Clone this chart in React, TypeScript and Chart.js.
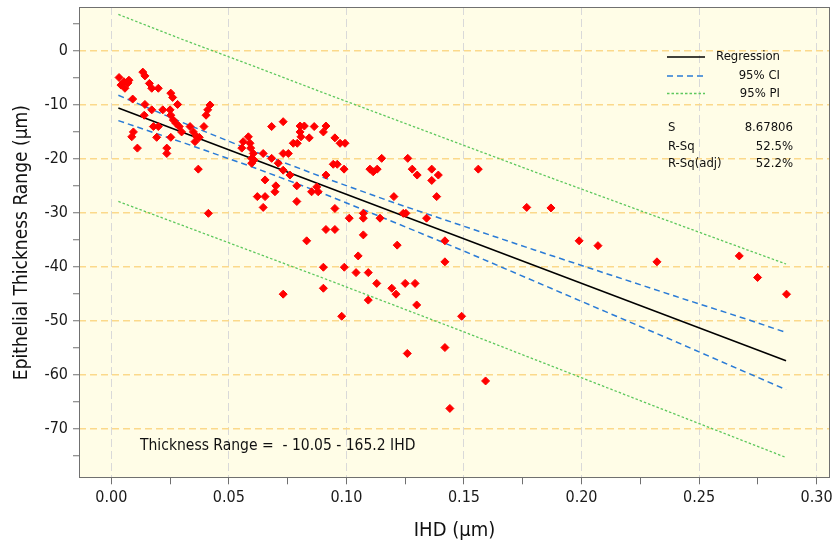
import React, { useEffect, useRef } from 'react';
import { Chart, registerables } from 'chart.js';

Chart.register(...registerables);

const FONT = "'DejaVu Sans Condensed', 'DejaVu Sans', sans-serif";

// Observed points: IHD (µm) vs epithelial thickness range (µm)
const ihd = [
  0.0033, 0.0054, 0.0071, 0.0041, 0.0058, 0.0075, 0.0134, 0.0143, 0.0162, 0.0172,
  0.0200, 0.0091, 0.0143, 0.0172, 0.0140, 0.0219, 0.0253, 0.0261, 0.0282, 0.0250,
  0.0253, 0.0264, 0.0275, 0.0289, 0.0299, 0.0335, 0.0349, 0.0363, 0.0356, 0.0374,
  0.0394, 0.0403, 0.0410, 0.0420, 0.0094, 0.0087, 0.0111, 0.0179, 0.0200, 0.0193,
  0.0236, 0.0236, 0.0253,
  0.0370, 0.0682, 0.0731, 0.0803, 0.0821, 0.0803, 0.0807, 0.0863, 0.0913, 0.0902,
  0.0842, 0.0774, 0.0791, 0.0951, 0.0973, 0.0994, 0.0583, 0.0561, 0.0555, 0.0590,
  0.0593, 0.0604, 0.0597, 0.0607, 0.0597, 0.0646, 0.0731, 0.0753, 0.0682, 0.0710,
  0.0731, 0.0760, 0.0654, 0.0700, 0.0696, 0.0789, 0.0621, 0.0654, 0.0646, 0.0789,
  0.0852, 0.0874, 0.0880, 0.0913, 0.0944, 0.0961, 0.0990, 0.1100, 0.1114, 0.1131,
  0.1150, 0.0413, 0.0951, 0.1012, 0.1072, 0.1072, 0.1143, 0.1202, 0.0913, 0.0951,
  0.1072, 0.0831, 0.1216,
  0.1242, 0.1253, 0.1341, 0.1767, 0.1419, 0.1050, 0.1419, 0.0902, 0.0991, 0.1041,
  0.1093, 0.0902, 0.1129, 0.1193, 0.1211, 0.1250, 0.1292, 0.1093, 0.1299, 0.0731,
  0.0980, 0.1490, 0.1419, 0.1259, 0.1592, 0.1440,
  0.1261, 0.1280, 0.1301, 0.1363, 0.1391, 0.1363, 0.1561, 0.1384,
  0.1870, 0.1990, 0.2070, 0.2321, 0.2671, 0.2749, 0.2872,
];

const thicknessRange = [
  -4.9, -5.7, -5.9, -6.3, -6.9, -5.4, -3.9, -4.6, -6.0, -6.9,
  -6.9, -8.9, -9.9, -10.9, -11.9, -10.9, -7.8, -8.6, -9.9, -10.9,
  -11.9, -12.8, -13.4, -14.0, -15.0, -14.0, -15.0, -15.9, -16.8, -16.0,
  -14.0, -11.9, -10.9, -10.0, -15.0, -15.9, -18.0, -14.0, -14.0, -16.0,
  -18.0, -19.0, -16.0,
  -21.9, -14.0, -13.1, -13.9, -13.9, -15.0, -15.9, -14.0, -13.9, -15.0,
  -16.1, -17.1, -17.1, -16.1, -17.1, -17.1, -15.9, -16.8, -18.0, -17.1,
  -18.0, -19.0, -19.9, -20.2, -20.8, -19.0, -19.0, -19.0, -19.9, -20.8,
  -22.1, -23.0, -23.9, -25.0, -26.1, -25.0, -27.0, -27.0, -29.0, -27.9,
  -26.1, -25.2, -26.1, -23.0, -21.0, -21.0, -21.9, -21.9, -22.4, -21.9,
  -19.9, -30.1, -29.2, -31.0, -30.1, -31.0, -31.0, -27.0, -33.1, -33.1,
  -34.1, -35.2, -36.0,
  -30.1, -30.1, -31.0, -29.0, -35.2, -38.0, -39.1, -40.1, -40.1, -41.1,
  -41.1, -44.0, -43.1, -44.0, -45.1, -43.1, -43.1, -46.2, -47.1, -45.1,
  -49.2, -49.2, -55.0, -56.1, -61.2, -66.3,
  -19.9, -21.9, -23.0, -21.9, -23.0, -24.0, -21.9, -27.0,
  -29.1, -35.2, -36.1, -39.1, -38.0, -42.0, -45.1,
];

// Fitted line and bands
const fitX = [0.003, 0.287];
const fitY = [-10.55, -57.46];
const bandX = [0.003, 0.03, 0.06, 0.09, 0.12, 0.15, 0.18, 0.21, 0.24, 0.27, 0.287];
const ciUpper = [-8.2, -13.2, -18.5, -23.4, -28.1, -32.5, -36.9, -41.2, -45.5, -49.7, -52.2];
const ciLower = [-12.9, -16.9, -21.5, -26.4, -31.7, -37.1, -42.7, -48.3, -53.9, -59.6, -62.8];
const piUpper = [6.8, 2.2, -2.7, -7.7, -12.6, -17.5, -22.4, -27.2, -32.0, -36.8, -39.5];
const piLower = [-27.9, -32.3, -37.2, -42.1, -47.1, -52.1, -57.2, -62.3, -67.4, -72.5, -75.4];

// Axes
const xMajorTicks = [0, 0.05, 0.1, 0.15, 0.2, 0.25, 0.3];
const xMinorTicks = [0.025, 0.075, 0.125, 0.175, 0.225, 0.275];
const yMajorTicks = [-70, -60, -50, -40, -30, -20, -10, 0];
const yMinorTicks = [-75, -65, -55, -45, -35, -25, -15, -5, 5];

const legendLabels = ['Regression', '95% CI', '95% PI'];
const statNames = ['S', 'R-Sq', 'R-Sq(adj)'];
const statValues = ['8.67806', '52.5%', '52.2%'];
const equationText = 'Thickness Range =  - 10.05 - 165.2 IHD';
const xTitle = 'IHD (µm)';
const yTitle = 'Epithelial Thickness Range (µm)';

const C_REG = '#000000';
const C_CI = '#2a7bd6';
const C_PI = '#5dc85d';
const D_CI = [6, 4];
const D_PI = [2.5, 2];

const pairs = (xs: number[], ys: number[]) => xs.map((x, i) => ({ x, y: ys[i] }));

const decorPlugin = {
  id: 'decor',
  beforeDraw(chart: any) {
    const { ctx, chartArea: a } = chart;
    ctx.save();
    ctx.fillStyle = '#fffde7';
    ctx.fillRect(a.left, a.top, a.right - a.left, a.bottom - a.top);
    ctx.restore();
  },
  afterDraw(chart: any) {
    const { ctx, chartArea: a } = chart;
    ctx.save();
    ctx.strokeStyle = '#707070';
    ctx.lineWidth = 1;
    ctx.setLineDash([]);
    ctx.strokeRect(Math.round(a.left) + 0.5, Math.round(a.top) + 0.5,
      Math.round(a.right - a.left) - 1, Math.round(a.bottom - a.top) - 1);

    // legend
    const colors = [C_REG, C_CI, C_PI];
    const dashes = [[], D_CI, D_PI];
    const widths = [1.5, 1.5, 1.3];
    const rowY = [50, 69, 86.5];
    ctx.font = `13px ${FONT}`;
    ctx.fillStyle = '#111';
    ctx.textBaseline = 'middle';
    legendLabels.forEach((lbl, i) => {
      const y = a.top + rowY[i];
      ctx.beginPath();
      ctx.strokeStyle = colors[i];
      ctx.lineWidth = widths[i];
      ctx.setLineDash(dashes[i]);
      ctx.moveTo(a.right - 163, y);
      ctx.lineTo(a.right - 125, y);
      ctx.stroke();
      ctx.setLineDash([]);
      ctx.textAlign = 'right';
      ctx.fillText(lbl, a.right - 50, y);
    });
    const statY = [120.5, 139.5, 157];
    statNames.forEach((nm, i) => {
      const y = a.top + statY[i];
      ctx.textAlign = 'left';
      ctx.fillText(nm, a.right - 162, y);
      ctx.textAlign = 'right';
      ctx.fillText(statValues[i], a.right - 37, y);
    });
    ctx.font = `15.5px ${FONT}`;
    ctx.textAlign = 'left';
    ctx.fillText(equationText, a.left + 61, a.bottom - 32);
    ctx.restore();
  },
};

export default function App() {
  const ref = useRef<HTMLCanvasElement | null>(null);

  useEffect(() => {
    const canvas = ref.current;
    if (!canvas) return;
    const isMajorX = (v: number) => xMajorTicks.includes(v);
    const isMajorY = (v: number) => yMajorTicks.includes(v);
    const lineDs = (label: string, xs: number[], ys: number[], color: string, width: number, dash: number[]) => ({
      label,
      data: pairs(xs, ys),
      showLine: true,
      pointRadius: 0,
      borderColor: color,
      borderWidth: width,
      borderDash: dash,
      fill: false,
      tension: 0,
    });

    const chart = new Chart(canvas, {
      type: 'scatter',
      data: {
        datasets: [
          {
            label: 'Observations',
            data: pairs(ihd, thicknessRange),
            pointStyle: 'rectRot',
            pointRadius: 4,
            backgroundColor: '#ff0000',
            borderColor: '#ff0000',
            borderWidth: 1,
            showLine: false,
          } as any,
          lineDs('Regression', fitX, fitY, C_REG, 1.5, []),
          lineDs('95% CI upper', bandX, ciUpper, C_CI, 1.5, D_CI),
          lineDs('95% CI lower', bandX, ciLower, C_CI, 1.5, D_CI),
          lineDs('95% PI upper', bandX, piUpper, C_PI, 1.3, D_PI),
          lineDs('95% PI lower', bandX, piLower, C_PI, 1.3, D_PI),
        ],
      },
      options: {
        responsive: false,
        animation: false,
        devicePixelRatio: 1,
        layout: { padding: { left: 0, top: 7, right: 5, bottom: 0 } },
        plugins: { legend: { display: false }, tooltip: { enabled: false } },
        scales: {
          x: {
            type: 'linear',
            min: -0.01374,
            max: 0.3057,
            afterBuildTicks: (s: any) => {
              s.ticks = [...xMajorTicks, ...xMinorTicks].sort((p, q) => p - q).map((v) => ({ value: v }));
            },
            afterFit: (s: any) => {
              s.height = 68.7;
              s.paddingLeft = 0;
              s.paddingRight = 0;
            },
            ticks: {
              autoSkip: false,
              maxRotation: 0,
              padding: 4,
              color: '#1a1a1a',
              font: { size: 16, family: FONT },
              callback: (v: any) => (isMajorX(v) ? Number(v).toFixed(2) : ''),
            },
            grid: {
              color: (c: any) => (c.tick && isMajorX(c.tick.value) ? '#d9d9d9' : 'rgba(0,0,0,0)'),
              lineWidth: 1,
              tickLength: 6,
              tickColor: '#707070',
              tickBorderDash: [],
            },
            border: { display: false, dash: [8, 4] },
            title: {
              display: true,
              text: xTitle,
              color: '#111',
              font: { size: 20, family: FONT },
              padding: { top: 0, bottom: 4 },
            },
          },
          y: {
            type: 'linear',
            min: -79.26,
            max: 8.18,
            afterBuildTicks: (s: any) => {
              s.ticks = [...yMajorTicks, ...yMinorTicks].sort((p, q) => p - q).map((v) => ({ value: v }));
            },
            afterFit: (s: any) => {
              s.width = 79;
              s.paddingTop = 0;
              s.paddingBottom = 0;
            },
            ticks: {
              autoSkip: false,
              padding: 5,
              color: '#1a1a1a',
              font: { size: 16, family: FONT },
              callback: (v: any) => (isMajorY(v) ? String(v) : ''),
            },
            grid: {
              color: (c: any) => (c.tick && isMajorY(c.tick.value) ? '#fbd98b' : 'rgba(0,0,0,0)'),
              lineWidth: 1.5,
              tickLength: 6,
              tickColor: '#707070',
              tickWidth: 1,
              tickBorderDash: [],
            },
            border: { display: false, dash: [7, 4] },
            title: {
              display: true,
              text: yTitle,
              color: '#111',
              font: { size: 19, family: FONT },
              padding: { top: 10.5, bottom: 0 },
            },
          },
        },
      } as any,
      plugins: [decorPlugin],
    });
    return () => chart.destroy();
  }, []);

  return (
    <div style={{ position: 'absolute', left: 0, top: 0, width: 835, height: 547, background: '#ffffff' }}>
      <canvas ref={ref} width={835} height={547} style={{ display: 'block', width: 835, height: 547 }} />
    </div>
  );
}
